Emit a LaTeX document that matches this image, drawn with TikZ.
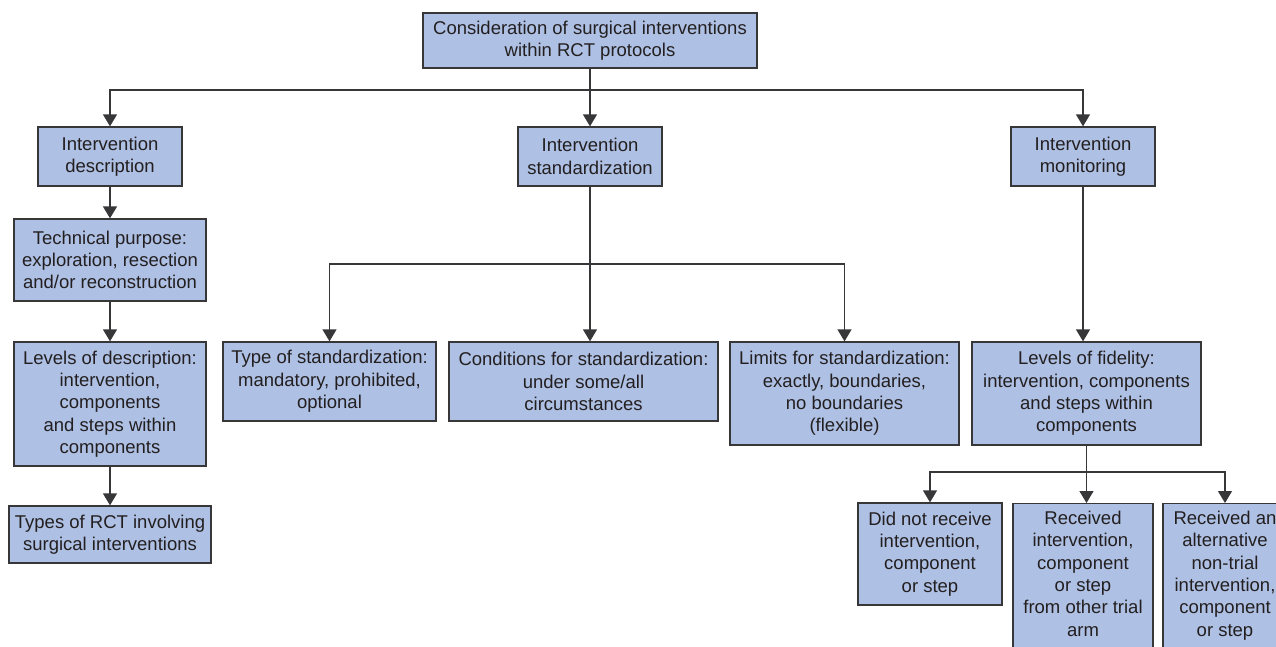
\documentclass[tikz,border=0pt]{standalone}
\usepackage{fontspec}
\setmainfont{Liberation Sans}
\usetikzlibrary{arrows.meta}
\definecolor{boxfill}{RGB}{174,192,227}
\definecolor{boxline}{RGB}{55,55,58}
\definecolor{txt}{RGB}{35,31,32}
\tikzset{
  bx/.style={draw=boxline, line width=1.3pt, fill=boxfill, text=txt, align=center,
    inner sep=0pt, font=\fontsize{18.5}{22.3}\selectfont},
  conn/.style={draw=boxline, line width=1.3pt},
  arr/.style={conn, -{Triangle[width=14pt,length=12pt]}}
}
\begin{document}
\begin{tikzpicture}[x=1pt,y=-1pt]
\useasboundingbox (0,0) rectangle (1276,646);
\begin{scope}
\clip (0,0) rectangle (1276,646);
\node[bx, minimum width=334pt, minimum height=55pt] (top) at (590,40.5) {Consideration of surgical interventions\\within RCT protocols};
\node[bx, minimum width=144pt, minimum height=59pt] (desc) at (110,156.5) {Intervention\\description};
\node[bx, minimum width=144pt, minimum height=59pt] (std) at (590,156.5) {Intervention\\standardization};
\node[bx, minimum width=144pt, minimum height=59pt] (mon) at (1083,156.5) {Intervention\\monitoring};
\node[bx, minimum width=192pt, minimum height=82pt] (tech) at (110,260) {Technical purpose:\\exploration, resection\\and/or reconstruction};
\node[bx, minimum width=192pt, minimum height=124pt] (levdesc) at (110,404) {Levels of description:\\intervention,\\components\\and steps within\\components};
\node[bx, minimum width=202pt, minimum height=57pt] (types) at (110,534.5) {Types of RCT involving\\surgical interventions};
\node[bx, minimum width=213pt, minimum height=79pt] (typestd) at (329.5,381.5) {Type of standardization:\\mandatory, prohibited,\\optional};
\node[bx, minimum width=269pt, minimum height=79pt] (cond) at (583.5,381.5) {Conditions for standardization:\\under some/all\\circumstances};
\node[bx, minimum width=229pt, minimum height=103pt] (limits) at (844.5,393.5) {Limits for standardization:\\exactly, boundaries,\\no boundaries\\(flexible)};
\node[bx, minimum width=229pt, minimum height=103pt] (fid) at (1086.5,393.5) {Levels of fidelity:\\intervention, components\\and steps within\\components};
\node[bx, minimum width=144pt, minimum height=102pt] (didnot) at (930,554) {Did not receive\\intervention,\\component\\or step};
\node[bx, minimum width=140pt, minimum height=160pt, anchor=north] (rec) at (1083,503) {};
\node[text=txt, align=center, font=\fontsize{18.5}{22.3}\selectfont, anchor=north, inner sep=0pt] (rectext) at (1083,511) {Received\\intervention,\\component\\or step\\from other trial\\arm};
\node[bx, minimum width=124pt, minimum height=160pt, anchor=north] (alt) at (1225,503) {};
\node[text=txt, align=center, font=\fontsize{18.5}{22.3}\selectfont, anchor=north, inner sep=0pt] (alttext) at (1225,511) {Received an\\alternative\\non-trial\\intervention,\\component\\or step};
\end{scope}
% top level connectors
\draw[conn] (top.south) -- (590,90);
\draw[arr] (590,90) -| (desc.north);
\draw[arr] (590,90) -| (mon.north);
\draw[arr] (top.south) -- (std.north);
% left column
\draw[arr] (desc.south) -- (tech.north);
\draw[arr] (tech.south) -- (levdesc.north);
\draw[arr] (levdesc.south) -- (types.north);
% standardization branch
\draw[arr] (std.south) -- (std.south |- cond.north);
\draw[arr] (std.south |- 0,264) -| (typestd.north);
\draw[arr] (std.south |- 0,264) -| (limits.north);
% monitoring branch
\draw[arr] (mon.south) -- (mon.south |- fid.north);
\draw[arr] (fid.south) -- (fid.south |- rec.north);
\draw[arr] (fid.south |- 0,472) -| (didnot.north);
\draw[arr] (fid.south |- 0,472) -| (alt.north);
\end{tikzpicture}
\end{document}
